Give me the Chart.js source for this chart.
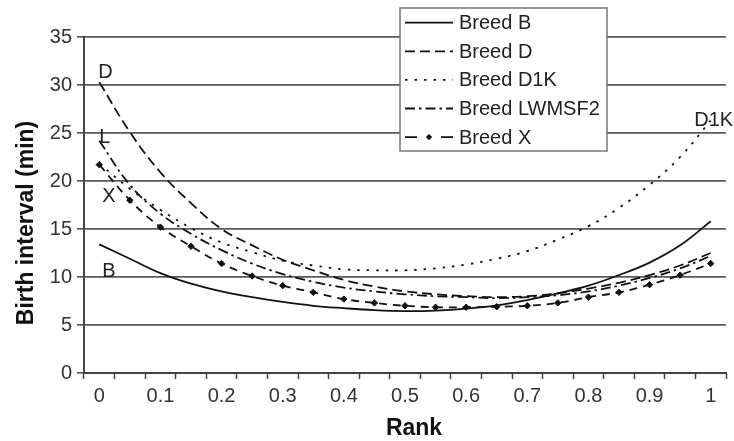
<!DOCTYPE html>
<html><head><meta charset="utf-8">
<script src="https://cdn.jsdelivr.net/npm/chart.js@4.4.0/dist/chart.umd.min.js"></script>
<style>html,body{margin:0;padding:0;background:#fff}#wrap{width:734px;height:441px}</style>
</head><body><div id="wrap"><canvas id="c" width="734" height="441"></canvas></div>
<script>
// ---- data ----
const rankLabels = ['0','0.05','0.1','0.15','0.2','0.25','0.3','0.35','0.4','0.45','0.5','0.55','0.6','0.65','0.7','0.75','0.8','0.85','0.9','0.95','1'];
const shownTicks = ['0','0.1','0.2','0.3','0.4','0.5','0.6','0.7','0.8','0.9','1'];
const seriesNames = ['Breed B','Breed D','Breed D1K','Breed LWMSF2','Breed X'];
const curveTags = ['B','D','D1K','L','X'];
const breedB  = [13.4,11.9,10.4,9.3,8.5,7.9,7.4,7.0,6.75,6.55,6.45,6.5,6.7,7.05,7.6,8.3,9.1,10.2,11.5,13.3,15.8];
const breedD  = [30.3,25.1,20.9,17.7,15.0,13.3,11.8,10.7,9.7,9.0,8.5,8.2,8.0,7.9,8.0,8.3,8.8,9.4,10.2,11.2,12.5];
const breedD1K= [21.8,19.2,17.0,15.1,13.6,12.6,11.7,11.2,10.8,10.7,10.7,10.9,11.3,11.9,12.7,13.9,15.3,17.2,19.6,22.5,26.3];
const breedL  = [24.2,19.6,16.6,14.5,12.8,11.4,10.3,9.5,8.9,8.5,8.2,8.0,7.9,7.8,7.9,8.1,8.5,9.1,9.9,10.9,12.2];
const breedX  = [21.7,18.0,15.2,13.2,11.4,10.1,9.1,8.4,7.7,7.3,7.0,6.85,6.85,6.9,7.0,7.3,7.9,8.4,9.2,10.2,11.4];
const yTicks = [0,5,10,15,20,25,30,35];

const FONT = '"Liberation Sans", Arial, Helvetica, sans-serif';
const INK = '#111';

function ds(label, data, dash, extra) {
  return Object.assign({
    label, data, borderColor: INK, backgroundColor: INK, borderWidth: 1.8,
    borderDash: dash, tension: 0.4, pointRadius: 0, fill: false
  }, extra || {});
}

const datasets = [
  ds(seriesNames[0], breedB, []),
  ds(seriesNames[1], breedD, [10,5]),
  ds(seriesNames[2], breedD1K, [2.5,7]),
  ds(seriesNames[3], breedL, [10,4,2.5,4]),
  ds(seriesNames[4], breedX, [8,6], {pointRadius: 3.2, pointStyle: 'rectRot', pointBorderWidth: 1, pointBackgroundColor: INK, pointBorderColor: INK})
];

const legendDash = [[], [10,5], [2.5,7], [10,4,2.5,4], [12,24]];

const annot = {
  id: 'annot',
  afterDraw(chart) {
    const ctx = chart.ctx;
    const xs = chart.scales.x, ys = chart.scales.y;
    ctx.save();
    // legend box
    const bx = 400, by = 8, bw = 207, bh = 143;
    ctx.fillStyle = '#fff';
    ctx.fillRect(bx, by, bw, bh);
    ctx.strokeStyle = '#777';
    ctx.lineWidth = 1.5;
    ctx.strokeRect(bx, by, bw, bh);
    chart.data.datasets.forEach((d, i) => {
      const cy = 22.7 + i * 28.6;
      ctx.strokeStyle = d.borderColor;
      ctx.lineWidth = d.borderWidth;
      ctx.setLineDash(legendDash[i]);
      ctx.beginPath(); ctx.moveTo(405, cy); ctx.lineTo(453, cy); ctx.stroke();
      ctx.setLineDash([]);
      if (d.pointRadius > 0) {
        const r = d.pointRadius;
        ctx.fillStyle = INK;
        ctx.beginPath();
        ctx.moveTo(429, cy - r); ctx.lineTo(429 + r, cy); ctx.lineTo(429, cy + r); ctx.lineTo(429 - r, cy);
        ctx.closePath(); ctx.fill();
      }
      ctx.fillStyle = '#222';
      ctx.font = '20px ' + FONT;
      ctx.textAlign = 'left';
      ctx.textBaseline = 'middle';
      ctx.fillText(d.label, 459, cy + 1);
    });
    // curve tags
    ctx.font = '20px ' + FONT;
    ctx.fillStyle = '#222';
    ctx.textBaseline = 'middle';
    ctx.textAlign = 'left';
    const x0 = xs.getPixelForValue(0);
    ctx.fillText(curveTags[1], x0 - 1, ys.getPixelForValue(breedD[0]) - 10);
    ctx.fillText(curveTags[3], x0, ys.getPixelForValue(breedL[0]) - 3);
    ctx.fillText(curveTags[4], x0 + 3, ys.getPixelForValue(breedX[0]) + 32);
    ctx.fillText(curveTags[0], x0 + 3, ys.getPixelForValue(breedB[0]) + 27);
    ctx.textAlign = 'center';
    const xl = xs.getPixelForValue(rankLabels.length - 1);
    ctx.fillText(curveTags[2], xl + 3, ys.getPixelForValue(breedD1K[breedD1K.length - 1]));
    // axis titles
    ctx.font = 'bold 23px ' + FONT;
    ctx.fillStyle = '#111';
    ctx.textAlign = 'center';
    ctx.fillText('Rank', 414, 429);
    ctx.translate(27, 223);
    ctx.rotate(-Math.PI / 2);
    ctx.fillText('Birth interval (min)', 0, 0);
    ctx.restore();
  }
};

new Chart(document.getElementById('c'), {
  type: 'line',
  data: { labels: rankLabels, datasets },
  plugins: [annot],
  options: {
    responsive: false,
    devicePixelRatio: 1,
    animation: false,
    layout: { padding: { top: 37, right: 8, left: 0, bottom: 0 } },
    plugins: { legend: { display: false }, tooltip: { enabled: false } },
    scales: {
      x: {
        type: 'category',
        offset: true,
        afterFit(s) { s.height = 68; },
        grid: { offset: true, drawOnChartArea: false, drawTicks: true, tickLength: 6, tickColor: '#444', tickWidth: 1.5 },
        border: { display: true, color: '#444', width: 2 },
        ticks: {
          autoSkip: false, maxRotation: 0, padding: 5,
          color: '#333', font: { family: FONT, size: 20 },
          callback(v, i) { const l = rankLabels[i]; return shownTicks.includes(l) ? l : ''; }
        }
      },
      y: {
        min: 0, max: 35,
        afterFit(s) { s.width = 84; },
        afterBuildTicks(s) { s.ticks = yTicks.map(v => ({ value: v })); },
        grid: { color: '#5a5a5a', lineWidth: 1.7, drawTicks: true, tickLength: 7, tickColor: '#444', tickWidth: 1.5 },
        border: { display: true, color: '#444', width: 2 },
        ticks: { padding: 5, color: '#333', font: { family: FONT, size: 20 } }
      }
    }
  }
});
</script></body></html>
